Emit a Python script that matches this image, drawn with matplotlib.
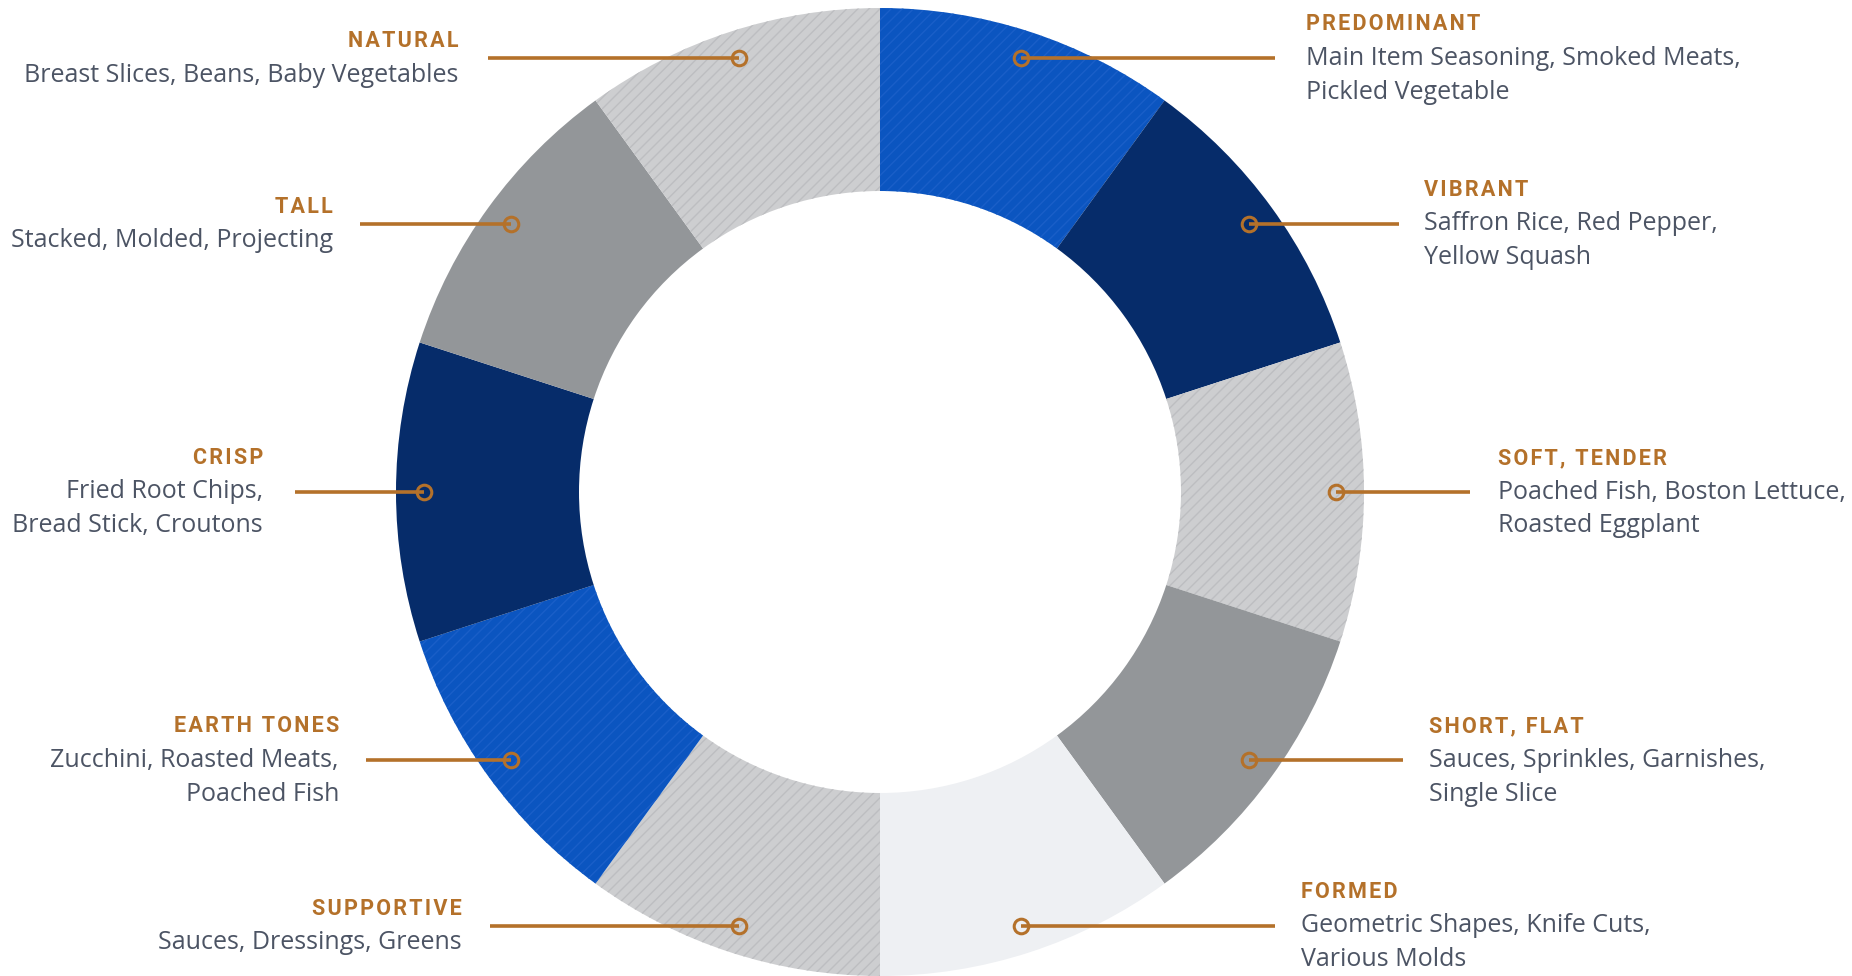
import matplotlib
matplotlib.use("Agg")
import matplotlib.pyplot as plt
import numpy as np

# ---- data ----
categories = ["PREDOMINANT", "VIBRANT", "SOFT, TENDER", "SHORT, FLAT", "FORMED",
              "SUPPORTIVE", "EARTH TONES", "CRISP", "TALL", "NATURAL"]
descriptions = [
    ["Main Item Seasoning, Smoked Meats,", "Pickled Vegetable"],
    ["Saffron Rice, Red Pepper,", "Yellow Squash"],
    ["Poached Fish, Boston Lettuce,", "Roasted Eggplant"],
    ["Sauces, Sprinkles, Garnishes,", "Single Slice"],
    ["Geometric Shapes, Knife Cuts,", "Various Molds"],
    ["Sauces, Dressings, Greens"],
    ["Zucchini, Roasted Meats,", "Poached Fish"],
    ["Fried Root Chips,", "Bread Stick, Croutons"],
    ["Stacked, Molded, Projecting"],
    ["Breast Slices, Beans, Baby Vegetables"],
]
values = [1, 1, 1, 1, 1, 1, 1, 1, 1, 1]

# ---- style ----
BLUE = "#0B55C0"
NAVY = "#062C6A"
LGRAY = "#CDCED0"
MGRAY = "#939699"
PALE = "#EEF0F3"
colors = [BLUE, NAVY, LGRAY, MGRAY, PALE, LGRAY, BLUE, NAVY, MGRAY, LGRAY]
hatch_colors = ["#1A5FC8", None, "#BDBEC1", None, None, "#BDBEC1", "#1A5FC8", None, None, "#BDBEC1"]
ORANGE = "#B4712A"
TEXTC = "#4C5464"

W, H = 1852, 976
CX, CY = 880, H - 492
R_OUT, R_IN = 484, 301
R_MARK = 456

# layout: end of connector line and text anchor x for each label
line_end_x = [1275, 1399, 1470, 1403, 1275, 490, 366, 295, 360, 488]
text_x = [1306, 1424, 1498, 1429, 1301, 462, 339, 263, 333, 458]
LINE_SP = 34

plt.rcParams["hatch.linewidth"] = 1.0
fig = plt.figure(figsize=(W / 100, H / 100), dpi=100)
fig.patch.set_facecolor("white")
ax = fig.add_axes([0, 0, 1, 1])

wedges, _ = ax.pie(values, colors=colors, startangle=90, counterclock=False,
                   radius=R_OUT, center=(CX, CY),
                   wedgeprops=dict(width=R_OUT - R_IN, linewidth=0))
for w, hc in zip(wedges, hatch_colors):
    if hc is not None:
        w.set_hatch("///")
        w.set_edgecolor(hc)
        w.set_linewidth(0)

ax.set_xlim(0, W)
ax.set_ylim(0, H)
ax.set_aspect("equal")
ax.axis("off")

def spaced(s):
    return "\u200a".join(list(s))

for i, (w, title, desc) in enumerate(zip(wedges, categories, descriptions)):
    mid = np.deg2rad((w.theta1 + w.theta2) / 2)
    mx = CX + R_MARK * np.cos(mid)
    my = CY + R_MARK * np.sin(mid)
    right = mx > CX
    ax.plot([mx, line_end_x[i]], [my, my], color=ORANGE, lw=2.6,
            solid_capstyle="butt", zorder=3)
    ax.plot([mx], [my], marker="o", ms=10.5, mfc="none", mec=ORANGE, mew=2.2, zorder=4)
    n = len(desc)
    ha = "left" if right else "right"
    ty = my + (n / 2) * LINE_SP
    ax.text(text_x[i], ty, spaced(title), ha=ha, va="center", color=ORANGE,
            fontsize=15.5, fontweight="bold", family=["Roboto", "DejaVu Sans"])
    for k, line in enumerate(desc):
        ly = my + (n / 2 - 1 - k) * LINE_SP
        ax.text(text_x[i], ly, line, ha=ha, va="center", color=TEXTC,
                fontsize=18, family=["Open Sans", "DejaVu Sans"])

fig.savefig("out.png", dpi=100, facecolor="white")
